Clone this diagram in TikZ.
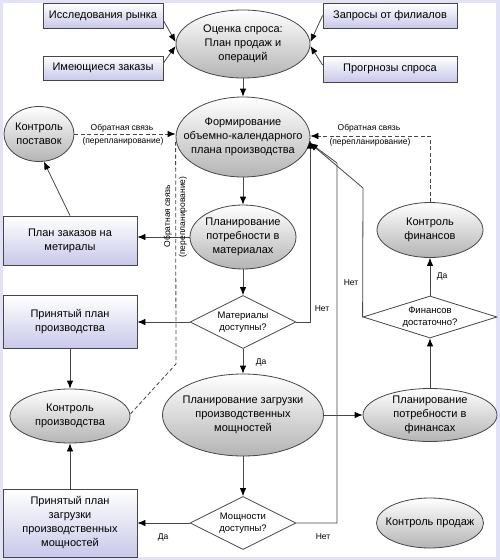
\documentclass[tikz,border=0pt]{standalone}
\usepackage{fontspec}
\setmainfont{Liberation Sans}
\usetikzlibrary{shapes.geometric,arrows.meta,calc}
\definecolor{framec}{RGB}{226,226,246}
\definecolor{boxbot}{RGB}{200,200,234}
\definecolor{ellbot}{RGB}{180,180,180}
\definecolor{ln}{RGB}{70,70,70}
\begin{document}
\begin{tikzpicture}[x=1pt,y=-1pt,
  txt/.style={font=\fontsize{11}{14}\selectfont, align=center, inner sep=0pt},
  boxst/.style={rectangle, draw=ln, line width=0.8pt, top color=white, bottom color=boxbot, txt},
  ellst/.style={ellipse, draw=ln, line width=0.8pt, top color=white, bottom color=ellbot, inner sep=0pt},
  dia/.style={diamond, draw=ln, line width=0.8pt, fill=white, inner sep=0pt},
  dtxt/.style={font=\fontsize{9.5}{12.5}\selectfont, align=center, inner sep=0pt},
  lbl/.style={font=\fontsize{8.5}{10}\selectfont, inner sep=0pt},
  arr/.style={draw=ln, line width=0.8pt, -{Latex[length=8pt,width=6.5pt,color=black]}},
  fb/.style={draw=ln, line width=0.8pt, dash pattern=on 4pt off 2.5pt},
  fbarr/.style={fb, -{Latex[length=8pt,width=6.5pt,color=black]}},
]
\fill[framec] (0,0) rectangle (500,560);
\fill[white] (3,3) rectangle (496,557);
\useasboundingbox (0,0) rectangle (500,560);

% boxes
\node[boxst,minimum width=120pt,minimum height=25pt] (b1) at (103,15.5) {Исследования рынка};
\node[boxst,minimum width=120pt,minimum height=24pt] (b2) at (103,68) {Имеющиеся заказы};
\node[boxst,minimum width=134pt,minimum height=25pt] (b3) at (390,15.5) {Запросы от филиалов};
\node[boxst,minimum width=134pt,minimum height=26pt] (b4) at (390,69) {Прогрнозы спроса};
\node[boxst,minimum width=134pt,minimum height=49pt] (b5) at (70,240.5) {План заказов на\\метиралы};
\node[boxst,minimum width=134pt,minimum height=53pt] (b6) at (70,322) {Принятый план\\производства};
\node[boxst,minimum width=134pt,minimum height=68pt] (b7) at (70,523) {Принятый план\\загрузки\\производственных\\мощностей};

% ellipses
\node[ellst,minimum width=134pt,minimum height=68pt,label={[txt]center:{Оценка спроса:\\План продаж и\\операций}}] (e1) at (243,44) {};
\node[ellst,minimum width=134pt,minimum height=80pt,label={[txt]center:{Формирование\\объемно-календарного\\плана производства}}] (e2) at (243,137) {};
\node[ellst,minimum width=70pt,minimum height=55pt,label={[txt]center:{Контроль\\поставок}}] (e3) at (39,134) {};
\node[ellst,minimum width=106pt,minimum height=64pt,label={[txt]center:{Планирование\\потребности в\\материалах}}] (e4) at (243,237) {};
\node[ellst,minimum width=161pt,minimum height=82pt,label={[txt]center:{Планирование загрузки\\производственных\\мощностей}}] (e5) at (243,415) {};
\node[ellst,minimum width=120pt,minimum height=54pt,label={[txt]center:{Контроль\\производства}}] (e6) at (70,416) {};
\node[ellst,minimum width=106pt,minimum height=55pt,label={[txt]center:{Контроль\\финансов}}] (e7) at (430,230) {};
\node[ellst,minimum width=134pt,minimum height=53pt,label={[txt]center:{Планирование\\потребности в\\финансах}}] (e8) at (430,415) {};
\node[ellst,minimum width=107pt,minimum height=50pt,label={[txt]center:{Контроль продаж}}] (e9) at (430,523) {};

% diamonds
\node[dia,minimum width=106pt,minimum height=53pt,label={[dtxt]center:{Материалы\\доступны?}}] (d1) at (243,322) {};
\node[dia,minimum width=106pt,minimum height=53pt,label={[dtxt]center:{Мощности\\доступны?}}] (d2) at (243,523) {};
\node[dia,minimum width=134pt,minimum height=42pt,label={[dtxt]center:{Финансов\\достаточно?}}] (d3) at (430,317) {};

% input arrows
\draw[arr] ([yshift=-5pt]b1.east) -- ([yshift=2pt]e1.west);
\draw[arr] ([yshift=5pt]b2.east) -- ([yshift=-2pt]e1.west);
\draw[arr] (b3.west) -- ([yshift=2pt]e1.east);
\draw[arr] ([yshift=4pt]b4.west) -- ([yshift=-2pt]e1.east);

% main column
\draw[arr] (e1) -- (e2);
\draw[arr] (e2) -- (e4);
\draw[arr] (e4) -- (d1);
\draw[arr] (d1) -- (e5);
\draw[arr] (e5) -- (d2);

% left side
\draw[arr] (e4.west) -- (e4.west -| b5.east);
\draw[arr] (b5.north) -- (e3.-80);
\draw[arr] (d1) -- (b6);
\draw[arr] (b6) -- (e6);
\draw[arr] (b7) -- (e6);
\draw[arr] (d2) -- (b7);

% right side
\draw[arr] (e5) -- (e8);
\draw[arr] (e8) -- (d3);
\draw[arr] (d3) -- (e7);
\draw[arr] (d1.east) -| (e2.-3);
\draw[arr] (d2.east) -- (337,523) -- (337,163) -- (e2.-5);
\draw[arr] (d3.west) -- (363,188) -- (e2.-5);

% feedback
\draw[fbarr] (e3.east) -- (e3.east -| e2.west);
\draw[fb] ([yshift=2pt]e6.east) -- (176,364) -- ([yshift=-5pt]e2.west);
\draw[fbarr] (e7.north) |- ([yshift=1pt]e2.east);

% labels
\node[lbl] (fb1a) at (122,128) {Обратная связь};
\node[lbl] (fb1b) at (123,141) {(перепланирование)};
\node[lbl] (fb2a) at (369,128.5) {Обратная связь};
\node[lbl] (fb2b) at (370,142) {(перепланирование)};
\node[lbl,rotate=90] (fb3a) at (168,216) {Обратная связь};
\node[lbl,rotate=90] (fb3b) at (183,217) {(перепланирование)};
\node[lbl] (y1) at (261,362) {Да};
\node[lbl] (y2) at (163,537) {Да};
\node[lbl] (y3) at (442,276) {Да};
\node[lbl] (n1) at (322,309) {Нет};
\node[lbl] (n2) at (323,537) {Нет};
\node[lbl] (n3) at (351,283) {Нет};
\end{tikzpicture}
\end{document}
